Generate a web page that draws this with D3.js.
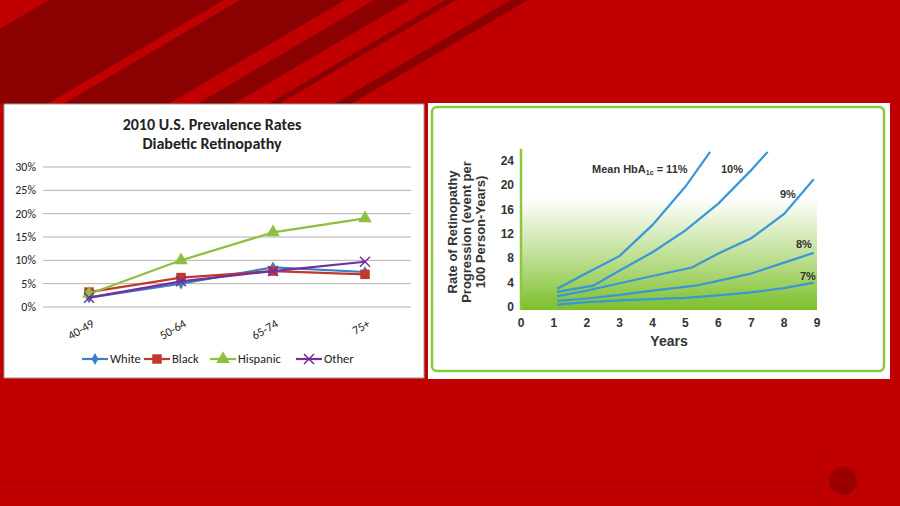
<!DOCTYPE html>
<html><head><meta charset="utf-8">
<script src="https://cdn.jsdelivr.net/npm/d3@7"></script>
<style>body{margin:0;background:#c00000}svg{display:block;font-family:Calibri,Carlito,"Liberation Sans",Arial,sans-serif}</style>
</head><body><svg id="c" width="900" height="506"></svg>
<script>
// Left chart data
const ageGroups = ["40-49","50-64","65-74","75+"];
const white = [2.0, 5.0, 8.5, 7.5];
const black = [3.2, 6.3, 7.7, 7.0];
const hispanic = [2.8, 10.0, 16.0, 19.0];
const other = [2.0, 5.5, 7.7, 9.7];
const pctTicks = [0,5,10,15,20,25,30];
// Right chart data (years, rate)
const years11 = [1.1,2,3,4,5,5.75];  const rate11 = [3,5.6,8.4,13.5,19.8,25.5];
const years10 = [1.1,2.2,3,4,5,6,7,7.5]; const rate10 = [2.5,3.5,6,9,12.6,17,22.5,25.5];
const years9 = [1.1,2,3,4,5.2,6,7,8,8.9]; const rate9 = [1.8,2.7,3.9,5.1,6.5,8.8,11.3,15.3,21];
const years8 = [1.1,2,3,4,5.3,6,7,8,8.9]; const rate8 = [1.0,1.4,2.0,2.7,3.5,4.3,5.5,7.3,8.9];
const years7 = [1.1,2,3,4,5,6,7,8,8.9]; const rate7 = [0.4,0.8,1.1,1.3,1.5,1.9,2.4,3.1,4.0];
const yearTicks = [0,1,2,3,4,5,6,7,8,9];
const rateTicks = [0,4,8,12,16,20,24];

const svg = d3.select("#c");
const stripes = [[49,224],[240,345],[374,410],[445,456],[511,528]];
stripes.forEach(([a,b])=>{
  const d=177;
  svg.append("path").attr("fill","#8b0000")
    .attr("d",`M${a},0L${b},0L${b-d},104L${a-d},104Z`);
});
svg.append("line").attr("x1",0).attr("x2",819).attr("y1",481).attr("y2",481).attr("stroke","#a80000").attr("stroke-width",1);
svg.append("line").attr("x1",819).attr("x2",819).attr("y1",463).attr("y2",497).attr("stroke","#a80000").attr("stroke-width",1);
svg.append("circle").attr("cx",843).attr("cy",481).attr("r",14).attr("fill","#9a0000");

// ---- Left chart
const L = svg.append("g");
L.append("rect").attr("x",4).attr("y",104).attr("width",420).attr("height",274).attr("fill","#fff").attr("stroke","#999");
L.append("text").attr("x",212).attr("y",130).attr("text-anchor","middle").attr("font-weight","bold").attr("font-size",16).attr("fill","#222").text("2010 U.S. Prevalence Rates");
L.append("text").attr("x",212).attr("y",149).attr("text-anchor","middle").attr("font-weight","bold").attr("font-size",16).attr("fill","#222").text("Diabetic Retinopathy");
const x = d3.scalePoint().domain(ageGroups).range([43,411]).padding(0.5);
const y = d3.scaleLinear().domain([0,30]).range([307,167]);
pctTicks.forEach(t=>{
  L.append("line").attr("x1",43).attr("x2",411).attr("y1",y(t)).attr("y2",y(t)).attr("stroke","#b0b0b0");
  L.append("text").attr("x",36).attr("y",y(t)+4).attr("text-anchor","end").attr("font-size",12).attr("fill","#222").text(t+"%");
});
ageGroups.forEach(g=>{
  L.append("text").attr("transform",`translate(${x(g)+6},${326}) rotate(-30)`).attr("text-anchor","end").attr("font-size",12).attr("fill","#222").text(g);
});
const series = [
  {name:"White",v:white,c:"#3b7fc4",m:"diamond"},
  {name:"Black",v:black,c:"#c0392b",m:"square"},
  {name:"Hispanic",v:hispanic,c:"#8fbf3f",m:"triangle"},
  {name:"Other",v:other,c:"#7030a0",m:"x"}];
function marker(g,type,cx,cy,c){
  if(type==="x"){
    g.append("path").attr("d",`M${cx-5},${cy-5}L${cx+5},${cy+5}M${cx-5},${cy+5}L${cx+5},${cy-5}`).attr("stroke",c).attr("stroke-width",1.5);
  } else {
    const sym = type==="diamond"?d3.symbolDiamond:type==="square"?d3.symbolSquare:d3.symbolTriangle;
    const size = type==="diamond"?40:type==="square"?90:80;
    g.append("path").attr("transform",`translate(${cx},${cy})`).attr("d",d3.symbol(sym,size)()).attr("fill",c);
  }
}
const line = d3.line().x((d,i)=>x(ageGroups[i])).y(d=>y(d));
series.forEach(s=>{
  L.append("path").attr("d",line(s.v)).attr("fill","none").attr("stroke",s.c).attr("stroke-width",2.2);
  s.v.forEach((v,i)=>marker(L,s.m,x(ageGroups[i]),y(v),s.c));
});
let lx = 82;
const widths=[62,66,86,60];
series.forEach((s,i)=>{
  L.append("line").attr("x1",lx).attr("x2",lx+26).attr("y1",359).attr("y2",359).attr("stroke",s.c).attr("stroke-width",2.2);
  marker(L,s.m,lx+13,359,s.c);
  L.append("text").attr("x",lx+28).attr("y",363).attr("font-size",12.5).attr("fill","#222").text(s.name);
  lx += widths[i];
});

// ---- Right chart
const R = svg.append("g");
R.append("rect").attr("x",428).attr("y",103).attr("width",462).attr("height",276).attr("fill","#fff");
R.append("rect").attr("x",432).attr("y",107).attr("width",452).attr("height",264).attr("rx",5).attr("fill","#fff").attr("stroke","#8dc63f").attr("stroke-width",2.5);
const defs = svg.append("defs");
const gr = defs.append("linearGradient").attr("id","gg").attr("x1",0).attr("x2",0).attr("y1",0).attr("y2",1);
gr.append("stop").attr("offset","0%").attr("stop-color","#8dc63f").attr("stop-opacity",0);
gr.append("stop").attr("offset","100%").attr("stop-color","#7cbf2a").attr("stop-opacity",1);
const rx = d3.scaleLinear().domain([0,9]).range([521,817]);
const ry = d3.scaleLinear().domain([0,24]).range([307,161]);
R.append("rect").attr("x",rx(0)).attr("y",ry(18)).attr("width",rx(9)-rx(0)).attr("height",ry(-0.5)-ry(18)).attr("fill","url(#gg)");
R.append("line").attr("x1",rx(0)).attr("x2",rx(0)).attr("y1",ry(26)).attr("y2",ry(-0.5)).attr("stroke","#8dc63f").attr("stroke-width",2.5);
yearTicks.forEach(t=>R.append("text").attr("x",rx(t)).attr("y",327).attr("text-anchor","middle").attr("font-family","Arial,Liberation Sans").attr("font-weight","bold").attr("font-size",12).attr("fill","#333").text(t));
rateTicks.forEach(t=>R.append("text").attr("x",514).attr("y",ry(t)+4).attr("text-anchor","end").attr("font-family","Arial,Liberation Sans").attr("font-weight","bold").attr("font-size",12).attr("fill","#333").text(t));
R.append("text").attr("x",rx(4.5)).attr("y",346).attr("text-anchor","middle").attr("font-family","Arial,Liberation Sans").attr("font-weight","bold").attr("font-size",14).attr("fill","#333").text("Years");
["Rate of Retinopathy","Progression (event per","100 Person-Years)"].forEach((t,i)=>{
  R.append("text").attr("transform",`translate(${457+i*14},${232}) rotate(-90)`).attr("text-anchor","middle").attr("font-family","Arial,Liberation Sans").attr("font-weight","bold").attr("font-size",13).attr("fill","#333").text(t);
});
const rl = d3.line().x(d=>rx(d[0])).y(d=>ry(d[1]));
[[years11,rate11],[years10,rate10],[years9,rate9],[years8,rate8],[years7,rate7]].forEach(([xs,vs])=>{
  R.append("path").attr("d",rl(xs.map((v,i)=>[v,vs[i]]))).attr("fill","none").attr("stroke","#3a96d6").attr("stroke-width",2.2);
});
const lab = (t,xx,yy)=>R.append("text").attr("x",xx).attr("y",yy).attr("font-family","Arial,Liberation Sans").attr("font-weight","bold").attr("font-size",11).attr("fill","#333").text(t);
const m = lab("",592,173);
m.append("tspan").text("Mean HbA");
m.append("tspan").attr("font-size",7).attr("dy",2).text("1c");
m.append("tspan").attr("dy",-2).text(" = 11%");
lab("10%",721,173);
lab("9%",780,198);
lab("8%",796,248);
lab("7%",800,280);
</script></body></html>
